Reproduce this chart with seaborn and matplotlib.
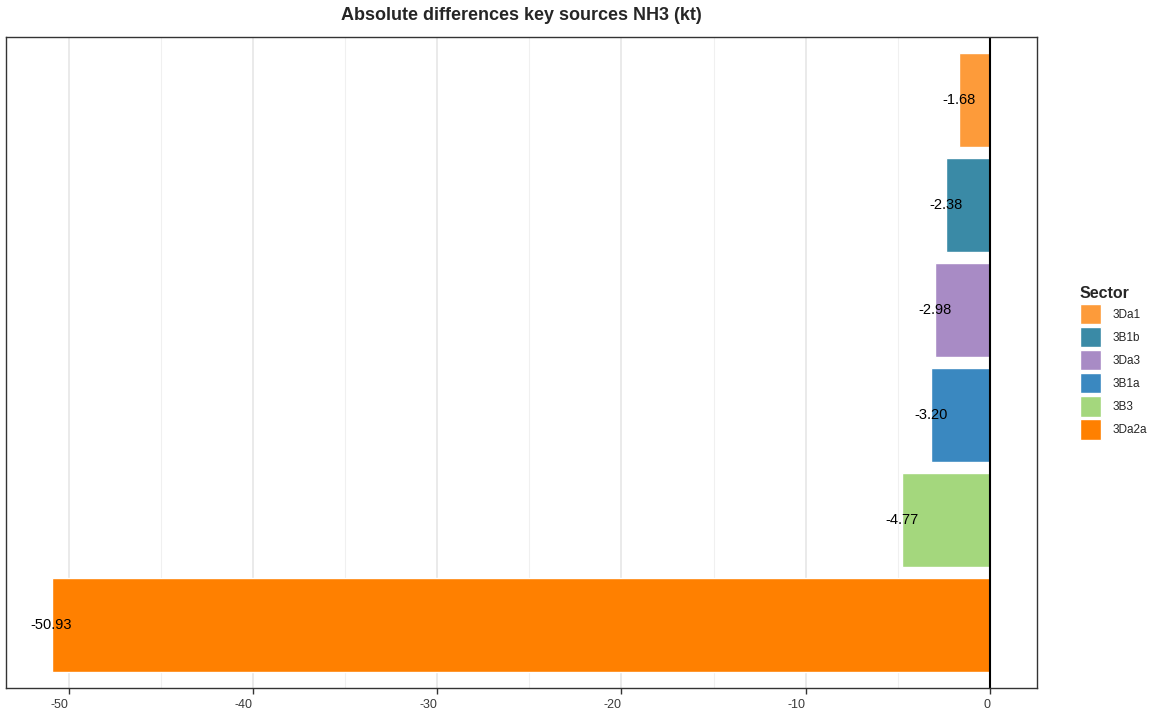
import matplotlib
matplotlib.use("Agg")
import matplotlib.pyplot as plt
import seaborn as sns
import pandas as pd
from matplotlib.patches import Patch

sectors = ["3Da1", "3B1b", "3Da3", "3B1a", "3B3", "3Da2a"]
values = [-1.68, -2.38, -2.98, -3.20, -4.77, -50.93]
colors = ["#FD9B3A", "#3A8AA6", "#A88BC5", "#3A88C0", "#A4D77D", "#FF8000"]
x_ticks = [-50, -40, -30, -20, -10, 0]
x_minor = [-45, -35, -25, -15, -5]

sns.set_theme(style="white")
plt.rcParams["font.family"] = ["Liberation Sans", "DejaVu Sans"]

df = pd.DataFrame({"Sector": sectors, "value": values})
palette = dict(zip(sectors, colors))

fig = plt.figure(figsize=(11.53, 7.18), dpi=100)
ax = fig.add_axes([6/1153, 1-688/718, (1037-6)/1153, (688-37)/718])

ax.set_xticks(x_minor, minor=True)
ax.set_xticks(x_ticks)
ax.grid(True, which="major", axis="x", color="#E6E6E6", linewidth=1.2)
ax.grid(True, which="minor", axis="x", color="#F0F0F0", linewidth=0.8)
ax.set_axisbelow(True)

sns.barplot(data=df, y="Sector", x="value", hue="Sector", palette=palette,
            order=sectors, hue_order=sectors, width=0.9, dodge=False,
            legend=False, ax=ax, saturation=1)

for i, v in enumerate(values):
    ax.text(v, i, f"{v:.2f}", ha="center", va="center", fontsize=10.5, color="black")

ax.axvline(0, color="black", linewidth=1.5)
ax.set_xlim(-53.4, 2.55)
ax.set_ylim(5.6, -0.6)
ax.set_yticks([])
ax.set_ylabel("")
ax.set_xlabel("")
ax.tick_params(axis="x", which="major", bottom=True, length=4, color="#333333",
               labelsize=9, labelcolor="#3A3A3A", width=1, pad=4)
ax.tick_params(axis="x", which="minor", bottom=False)
for s in ax.spines.values():
    s.set_color("#333333")
    s.set_linewidth(1)
ax.set_xticklabels([str(t) for t in x_ticks], ha="right")

fig.text((6 + 1037) / 2 / 1153, 1 - 16 / 718, "Absolute differences key sources NH3 (kt)",
         fontsize=13, fontweight="bold", ha="center", va="center")

handles = [Patch(facecolor=c, edgecolor="white", linewidth=1, label=s)
           for s, c in zip(sectors, colors)]
leg = fig.legend(handles=handles, title="Sector", loc="upper left",
                 bbox_to_anchor=(1080/1153, 1-286/718), frameon=False,
                 fontsize=8.5, title_fontproperties={"weight": "bold", "size": 11.5},
                 handlelength=1.75, handleheight=2.25, labelspacing=0.25,
                 handletextpad=1.0, borderaxespad=0, borderpad=0)
leg._legend_box.align = "left"

fig.savefig("out.png", dpi=100)
